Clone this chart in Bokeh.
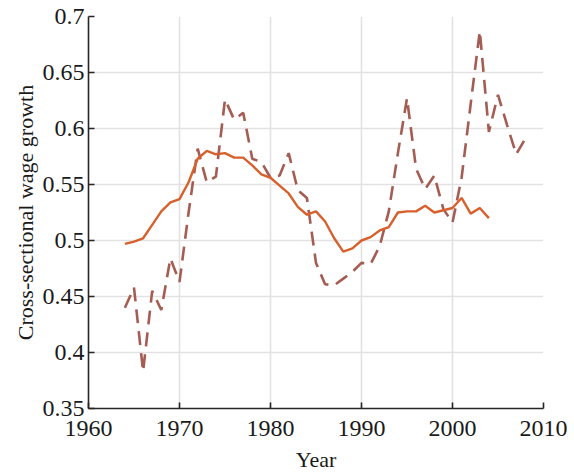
from bokeh.plotting import figure
from bokeh.models import Range1d, FixedTicker, CustomJSTickFormatter
from bokeh.embed import file_html
from bokeh.resources import INLINE

# Solid series (1964-2004)
years_solid = list(range(1964, 2005))
solid_vals = [0.497, 0.499, 0.502, 0.514, 0.526, 0.534, 0.537, 0.552, 0.573, 0.580,
              0.577, 0.578, 0.574, 0.574, 0.567, 0.559, 0.556, 0.549, 0.542, 0.530,
              0.523, 0.526, 0.517, 0.502, 0.490, 0.493, 0.500, 0.503, 0.509, 0.512,
              0.525, 0.526, 0.526, 0.531, 0.525, 0.527, 0.529, 0.538, 0.524, 0.529,
              0.520]

# Dashed series (1964-2008)
years_dash = list(range(1964, 2009))
dash_vals = [0.440, 0.458, 0.383, 0.455, 0.438, 0.484, 0.463, 0.525, 0.582, 0.552,
             0.557, 0.626, 0.608, 0.614, 0.573, 0.570, 0.556, 0.558, 0.578, 0.545,
             0.538, 0.480, 0.461, 0.460, 0.466, 0.472, 0.480, 0.479, 0.495, 0.526,
             0.578, 0.627, 0.564, 0.546, 0.558, 0.528, 0.516, 0.556, 0.622, 0.687,
             0.597, 0.630, 0.603, 0.577, 0.591]

x_ticks = [1960, 1970, 1980, 1990, 2000, 2010]
y_ticks = [0.35, 0.4, 0.45, 0.5, 0.55, 0.6, 0.65, 0.7]

FONT = "Liberation Serif"

p = figure(frame_width=455, frame_height=392, output_backend="svg", toolbar_location=None,
           x_range=Range1d(1960, 2010), y_range=Range1d(0.35, 0.7),
           min_border_left=88, min_border_right=29, min_border_top=16, min_border_bottom=60)

p.outline_line_color = None
p.background_fill_color = "white"
p.border_fill_color = "white"

p.line(years_dash, dash_vals, line_color="#A55C52", line_width=2.6, line_dash="14 8")
p.line(years_solid, solid_vals, line_color="#D8602C", line_width=2.4)

p.xaxis.ticker = FixedTicker(ticks=x_ticks)
p.yaxis.ticker = FixedTicker(ticks=y_ticks)
p.yaxis.formatter = CustomJSTickFormatter(code="return String(Math.round(tick*100)/100);")

for ax in (p.xaxis[0], p.yaxis[0]):
    ax.major_label_text_font = FONT
    ax.major_label_text_font_size = "24px"
    ax.major_label_text_color = "#1a1a1a"
    ax.axis_label_text_font = FONT
    ax.axis_label_text_font_size = "22px"
    ax.axis_label_text_font_style = "normal"
    ax.axis_label_text_color = "#1a1a1a"
    ax.axis_line_color = "#262626"
    ax.axis_line_width = 1.6
    ax.major_tick_line_color = "#262626"
    ax.major_tick_line_width = 1.6
    ax.major_tick_in = 6
    ax.major_tick_out = 0
    ax.minor_tick_line_color = None

p.xaxis.axis_label = "Year"
p.yaxis.axis_label = "Cross-sectional wage growth"
p.xaxis.major_label_standoff = 12
p.yaxis.major_label_standoff = 4
p.xaxis.axis_label_standoff = 8
p.yaxis.axis_label_standoff = 2

p.xgrid.ticker = FixedTicker(ticks=x_ticks)
p.ygrid.ticker = FixedTicker(ticks=y_ticks)
p.grid.grid_line_color = "#E2E2E2"
p.grid.grid_line_width = 1.6

open("out.html", "w").write(file_html(p, INLINE))
